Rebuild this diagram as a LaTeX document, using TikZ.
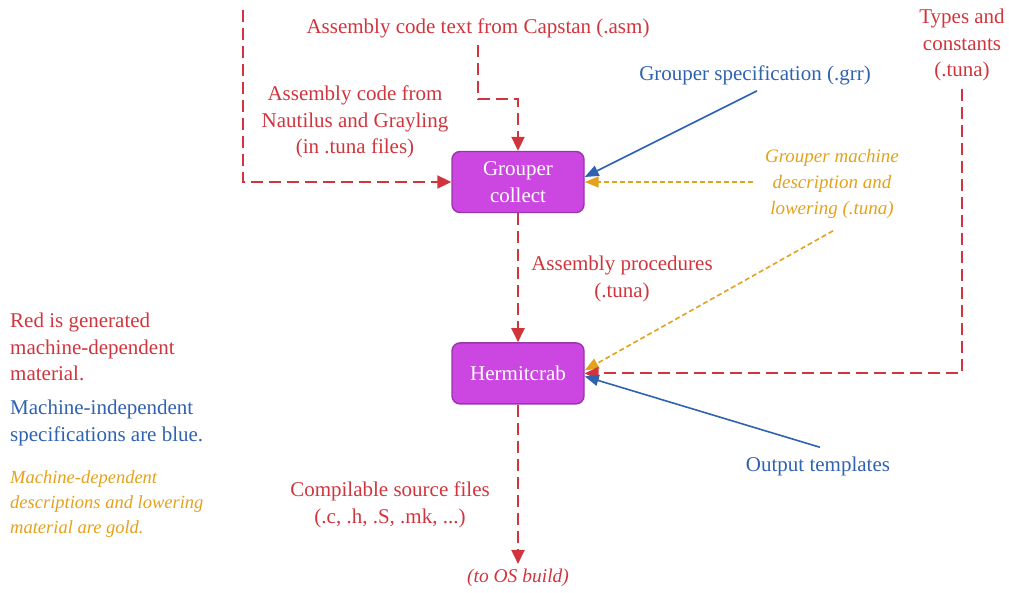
\documentclass[tikz,border=0pt]{standalone}
\usepackage{fontspec}
\setmainfont{Liberation Serif}
\usepackage{xcolor}
\usetikzlibrary{arrows.meta, positioning}
\definecolor{genred}{HTML}{D0353D}
\definecolor{specblue}{HTML}{2F62B0}
\definecolor{mdgold}{HTML}{E4A11B}
\definecolor{procfill}{HTML}{CC47E2}
\definecolor{procedge}{HTML}{9A35AC}

\begin{document}
\begin{tikzpicture}[
    x=1pt, y=-1pt,
    every node/.style={font=\fontsize{21}{26.5}\selectfont, align=center, inner sep=0pt},
    proc/.style={rectangle, draw=procedge, fill=procfill, line width=1.4pt, rounded corners=8pt, minimum width=132pt, minimum height=61pt, text=white},
    redtxt/.style={text=genred},
    bluetxt/.style={text=specblue},
    goldtxt/.style={text=mdgold, font=\fontsize{19}{26}\selectfont\itshape},
    redarr/.style={-{Triangle[length=14pt, width=13pt]}, genred, line width=2pt, dash pattern=on 12pt off 6pt},
    bluearr/.style={-{Triangle[length=14pt, width=11pt]}, specblue, line width=1.6pt},
    goldarr/.style={-{Triangle[length=14pt, width=11pt]}, mdgold, line width=1.6pt, dash pattern=on 5pt off 3pt},
]
    \useasboundingbox (0,0) rectangle (1009,592);

    % Processing steps
    \node[proc] (collect) at (518,182) {Grouper\\collect};
    \node[proc, below=129pt of collect] (hermit) {Hermitcrab};

    % Inputs to Grouper collect
    \coordinate (naut top) at (243,10);
    \node[redtxt] (capstan) at (478,28) {Assembly code text from Capstan (.asm)};
    \node[redtxt] (nautilus) at (355,122) {Assembly code from\\Nautilus and Grayling\\(in .tuna files)};
    \node[bluetxt] (grr) at (755,75) {Grouper specification (.grr)};
    \node[goldtxt] (gmach) at (832,184) {Grouper machine\\description and\\lowering (.tuna)};

    % Inputs to Hermitcrab
    \node[redtxt] (types) at (962,45) {Types and\\constants\\(.tuna)};
    \node[redtxt] (asmproc) at (622,279) {Assembly procedures\\(.tuna)};
    \node[bluetxt] (templates) at (818,466) {Output templates};

    % Outputs
    \node[redtxt] (compilable) at (390,505) {Compilable source files\\(.c, .h, .S, .mk, ...)};
    \node[text=genred, font=\fontsize{19.5}{26}\selectfont\itshape] (osbuild) at (518,578) {(to OS build)};

    % Legend
    \node[redtxt, anchor=west, align=left] (leg red) at (10,347) {Red is generated\\machine-dependent\\material.};
    \node[bluetxt, anchor=west, align=left] (leg blue) at (10,423) {Machine-independent\\specifications are blue.};
    \node[goldtxt, anchor=west, align=left, font=\fontsize{18.5}{25}\selectfont\itshape] (leg gold) at (10,504) {Machine-dependent\\descriptions and lowering\\material are gold.};

    % --- Arrows ---
    \draw[redarr] (naut top) |- (collect.west);
    \draw[redarr] ([yshift=-7pt]capstan.south) -- (478,99) -| (collect.north);
    \draw[bluearr] ([xshift=2pt,yshift=-6pt]grr.south) -- ([yshift=5pt]collect.east);
    \draw[goldarr] (gmach.west |- collect.east) ++(-12pt,0) -- (collect.east);

    \draw[redarr] (collect.south) -- (hermit.north);
    \draw[goldarr] ([xshift=1pt,yshift=-12pt]gmach.south) -- ([yshift=3pt]hermit.east);
    \draw[redarr] ([yshift=-8pt]types.south) |- (hermit.east);
    \draw[bluearr] ([xshift=2pt,yshift=9pt]templates.north) -- ([yshift=-3pt]hermit.east);

    \draw[redarr] (hermit.south) -- ([yshift=5pt]osbuild.north);

\end{tikzpicture}
\end{document}
